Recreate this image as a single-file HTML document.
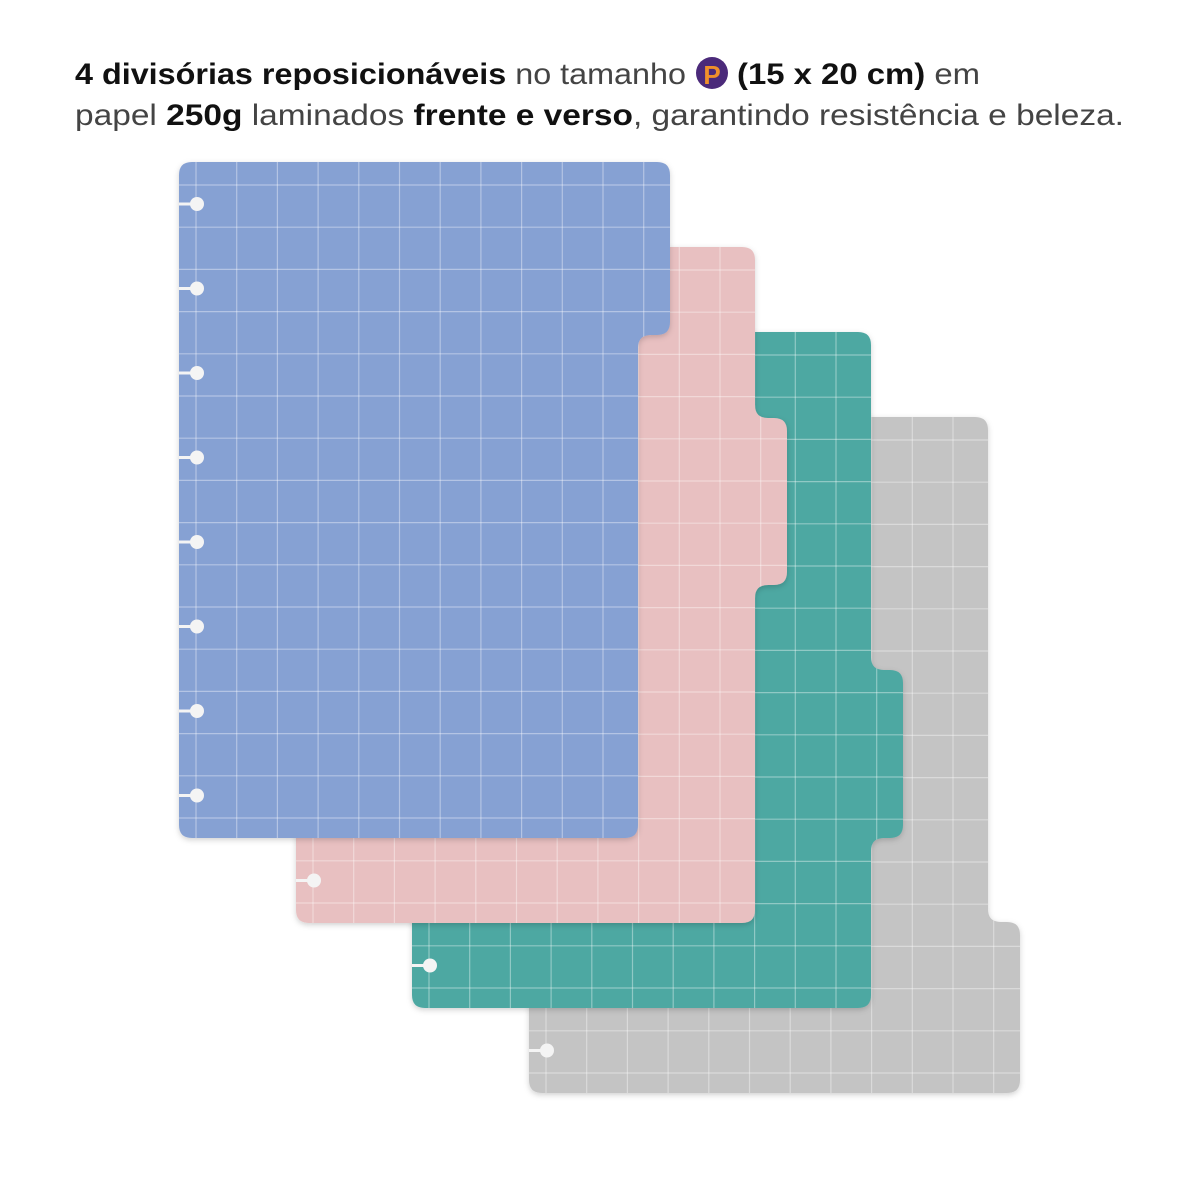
<!DOCTYPE html>
<html><head><meta charset="utf-8"><style>
html,body{margin:0;padding:0;background:#fff;}
svg{display:block}
</style></head><body>
<svg id="s" width="1200" height="1200" viewBox="0 0 1200 1200" xmlns="http://www.w3.org/2000/svg">
<defs>
<filter id="sh" x="-10%" y="-10%" width="120%" height="120%"><feDropShadow dx="0" dy="2" stdDeviation="3" flood-color="#000" flood-opacity="0.18"/></filter>
</defs>
<g font-family="Liberation Sans, sans-serif" font-size="30">
<text x="75" y="84" textLength="611" lengthAdjust="spacingAndGlyphs"><tspan font-weight="bold" fill="#111">4 divisórias reposicionáveis</tspan><tspan fill="#444"> no tamanho</tspan></text>
<circle cx="712" cy="73" r="16" fill="#4b2a7a"/>
<text x="712" y="84" text-anchor="middle" font-weight="bold" font-size="26" fill="#f0902a">P</text>
<text x="737" y="84" textLength="243" lengthAdjust="spacingAndGlyphs"><tspan font-weight="bold" fill="#111">(15 x 20 cm)</tspan><tspan fill="#444"> em</tspan></text>
<text x="75" y="125" textLength="1049" lengthAdjust="spacingAndGlyphs"><tspan fill="#444">papel </tspan><tspan font-weight="bold" fill="#111">250g</tspan><tspan fill="#444"> laminados </tspan><tspan font-weight="bold" fill="#111">frente e verso</tspan><tspan fill="#444">, garantindo resistência e beleza.</tspan></text>
</g>
<g id="cards"></g>
</svg>
<script>
var W=459,H=676,E=32,r=13;
var cards=[
 {L:529,T:417,c:"#c4c4c4",ya:505,yb:676},
 {L:412,T:332,c:"#4ea8a2",ya:338,yb:506},
 {L:296,T:247,c:"#e8c0c1",ya:171,yb:338},
 {L:179,T:162,c:"#86a1d3",ya:0,yb:173}
];
function path(ya,yb){
 var p="M"+r+",0 ";
 var X=W+E;
 if(ya===0){p+="H"+(X-r)+" Q"+X+",0 "+X+","+r+" ";}
 else{p+="H"+(W-r)+" Q"+W+",0 "+W+","+r+" V"+(ya-r)+" Q"+W+","+ya+" "+(W+r)+","+ya+" H"+(X-r)+" Q"+X+","+ya+" "+X+","+(ya+r)+" ";}
 if(yb>=H){p+="V"+(H-r)+" Q"+X+","+H+" "+(X-r)+","+H+" ";}
 else{p+="V"+(yb-r)+" Q"+X+","+yb+" "+(X-r)+","+yb+" H"+(W+r)+" Q"+W+","+yb+" "+W+","+(yb+r)+" V"+(H-r)+" Q"+W+","+H+" "+(W-r)+","+H+" ";}
 p+="H"+r+" Q0,"+H+" 0,"+(H-r)+" V"+r+" Q0,0 "+r+",0 Z";
 return p;
}
var out="";
cards.forEach(function(k,i){
 var d=path(k.ya,k.yb);
 out+='<g transform="translate('+k.L+','+k.T+')">';
 out+='<clipPath id="c'+i+'"><path d="'+d+'"/></clipPath>';
 out+='<path d="'+d+'" fill="'+k.c+'" filter="url(#sh)"/>';
 out+='<g clip-path="url(#c'+i+')" stroke="#fff" stroke-opacity="0.38" stroke-width="1.2">';
 for(var x=17;x<W+E;x+=40.7)out+='<line x1="'+x+'" y1="0" x2="'+x+'" y2="'+H+'"/>';
 for(var y=23;y<H;y+=42.2)out+='<line x1="0" y1="'+y+'" x2="'+(W+E)+'" y2="'+y+'"/>';
 out+='</g>';
 for(var j=0;j<8;j++){var hy=42+84.5*j;
  out+='<line x1="0" y1="'+hy+'" x2="17" y2="'+hy+'" stroke="#f4f4f4" stroke-width="3"/><circle cx="18" cy="'+hy+'" r="7" fill="#f4f4f4"/>';}
 out+='</g>';
});
document.getElementById("cards").innerHTML=out;
</script>
</body></html>
